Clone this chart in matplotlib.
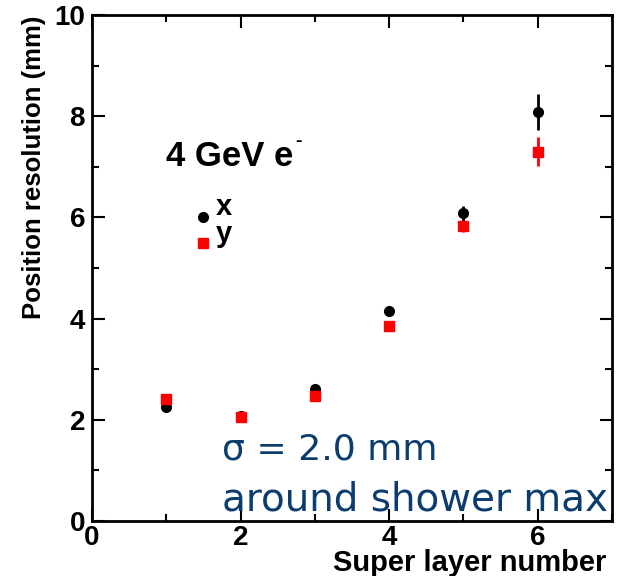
import matplotlib
matplotlib.use("Agg")
import matplotlib.pyplot as plt
from matplotlib.ticker import MultipleLocator

layers = [1, 2, 3, 4, 5, 6]
res_x = [2.25, 2.07, 2.60, 4.15, 6.08, 8.08]
err_x = [0.0, 0.0, 0.05, 0.0, 0.15, 0.35]
res_y = [2.42, 2.05, 2.48, 3.85, 5.82, 7.30]
err_y = [0.0, 0.0, 0.0, 0.0, 0.10, 0.28]

plt.rcParams['font.family'] = ['Liberation Sans', 'DejaVu Sans']

fig = plt.figure(figsize=(6.19, 5.76), dpi=100)
ax = fig.add_axes([0.1486, 0.0955, 0.8401, 0.8785])

ax.errorbar(layers, res_x, yerr=err_x, fmt='o', color='black', ms=7,
            elinewidth=2, capsize=0, zorder=3)
ax.errorbar(layers, res_y, yerr=err_y, fmt='s', color='red', ms=7,
            elinewidth=2, capsize=0, zorder=4)

# legend markers
ax.plot([1.5], [6.0], 'o', color='black', ms=7)
ax.plot([1.5], [5.5], 's', color='red', ms=7)
ax.text(1.67, 6.2, 'x', fontsize=21, fontweight='bold', va='center', ha='left')
ax.text(1.67, 5.68, 'y', fontsize=21, fontweight='bold', va='center', ha='left')
ax.text(1.0, 7.2, '4 GeV e', fontsize=25, fontweight='bold', va='center', ha='left')
ax.text(2.74, 7.5, '-', fontsize=14, fontweight='bold', va='center', ha='left')

ax.text(1.75, 1.42, 'σ = 2.0 mm', fontsize=26, color='#0b3c6e', va='center', ha='left',
        family=['DejaVu Sans'])
ax.text(1.75, 0.42, 'around shower max', fontsize=28, color='#0b3c6e', va='center', ha='left',
        family=['DejaVu Sans'], clip_on=False)

ax.set_xlim(0, 7)
ax.set_ylim(0, 10)
ax.xaxis.set_major_locator(MultipleLocator(2))
ax.xaxis.set_minor_locator(MultipleLocator(1))
ax.yaxis.set_major_locator(MultipleLocator(2))
ax.yaxis.set_minor_locator(MultipleLocator(1))
ax.tick_params(which='both', direction='in', top=True, right=True, width=1.5)
ax.tick_params(which='major', length=9, labelsize=20, pad=5)
ax.tick_params(axis='x', which='major', pad=3)
ax.tick_params(which='minor', length=5)
for lab in ax.get_xticklabels() + ax.get_yticklabels():
    lab.set_fontweight('bold')
for s in ax.spines.values():
    s.set_linewidth(2)

ax.set_ylabel('Position resolution (mm)', fontsize=18.5, fontweight='bold')
ax.yaxis.set_label_coords(-0.088, 0.698)
ax.set_xlabel('Super layer number', fontsize=21, fontweight='bold')
ax.xaxis.set_label_coords(0.99, -0.084)
ax.xaxis.label.set_ha('right')
ax.xaxis.label.set_va('center')

fig.savefig('out.png', dpi=100)
